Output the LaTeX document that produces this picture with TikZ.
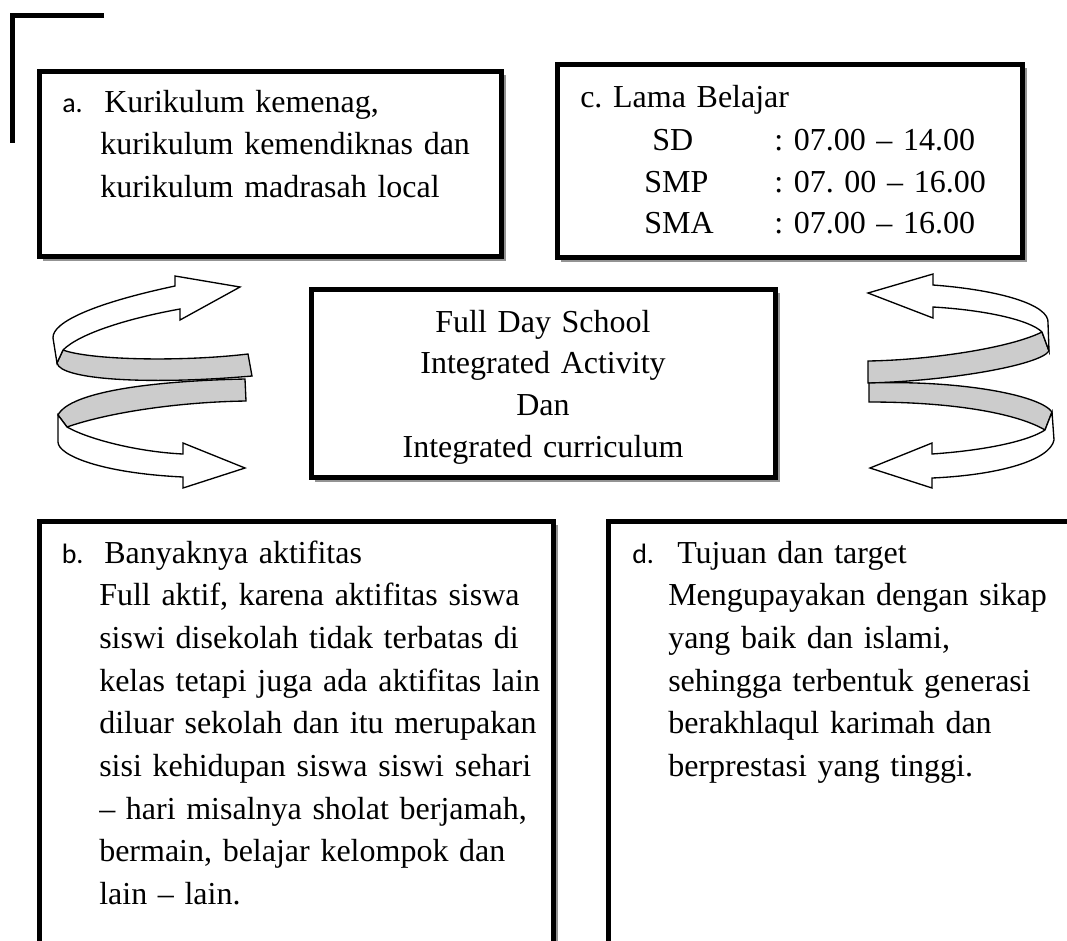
\documentclass[tikz,border=0pt]{standalone}
\usepackage{fontspec}
\setmainfont{Liberation Serif}[Ligatures={TeX,NoCommon}]
\newfontfamily\labelfont{Carlito}
\frenchspacing
\tikzset{
  % kotak bergaris tebal dengan bayangan abu-abu
  kotak/.style={
    draw=black,
    line width=3.75pt,
    fill=white,
    preaction={draw=gray!85, fill=gray!85, transform canvas={shift={(3pt,-3pt)}}}
  },
  % pita spiral (muka depan dan muka belakang)
  pita/.style={draw=black, line width=1pt, fill=white},
  pitagelap/.style={pita, fill=gray!40},
  % teks isi kotak
  isi/.style={anchor=base west, inner sep=0pt, align=left, text width=420pt,
    font=\fontsize{24}{32}\selectfont},
  % huruf urutan a. b. d.
  huruf/.style={anchor=base west, inner sep=0pt, font=\labelfont\fontsize{21}{25}\selectfont},
}
\begin{document}
\begin{tikzpicture}[x=0.75pt, y=-0.75pt]
  \useasboundingbox (0,0) rectangle (1067,940);
  \clip (0,0) rectangle (1067,940);

  % Sudut kiri atas
  \draw[line width=3.75pt] (104,15.7) -- (12.8,15.7) -- (12.8,143);

  % Kotak
  \draw[kotak] (39,71) rectangle (501,256);
  \draw[kotak] (557,64.5) rectangle (1022,257);
  \draw[kotak] (311.5,289.5) rectangle (775,477.5);
  \draw[kotak] (39,521.5) rectangle (553,1000);
  \draw[kotak] (608.5,521.5) rectangle (1120,1000);

  % Kotak a
  \node[huruf] (la) at (62,112) {a.};
  \node[isi] (kurikulum) at (100,112) {\hspace*{3pt}Kurikulum kemenag,\\kurikulum kemendiknas dan\\kurikulum madrasah local};

  % Kotak c
  \node[isi] (lama) at (580,107) {c. Lama Belajar};
  \node[isi] (sd) at (652,150) {SD};
  \node[isi] (jamsd) at (774,150) {: 07.00 – 14.00};
  \node[isi] (smp) at (644,192) {SMP};
  \node[isi] (jamsmp) at (774,192) {: 07. 00 – 16.00};
  \node[isi] (sma) at (644,233) {SMA};
  \node[isi] (jamsma) at (774,233) {: 07.00 – 16.00};

  % Kotak tengah
  \node[isi, anchor=base, align=center, text width=340pt, font=\fontsize{24}{31.3}\selectfont] (fds) at (543,332)
    {Full Day School\\Integrated Activity\\Dan\\Integrated curriculum};

  % Kotak b
  \node[huruf] (lb) at (61.5,563) {b.};
  \node[isi] (aktifitas) at (99,563) {\hspace*{3.75pt}Banyaknya aktifitas\\Full aktif, karena aktifitas siswa\\siswi disekolah tidak terbatas di\\kelas tetapi juga ada aktifitas lain\\diluar sekolah dan itu merupakan\\sisi kehidupan siswa siswi sehari\\– hari misalnya sholat berjamah,\\bermain, belajar kelompok dan\\lain – lain.};

  % Kotak d
  \node[huruf] (ld) at (632,563) {d.};
  \node[isi] (tujuan) at (668,563) {\hspace*{6.75pt}Tujuan dan target\\Mengupayakan dengan sikap\\yang baik dan islami,\\sehingga terbentuk generasi\\berakhlaqul karimah dan\\berprestasi yang tinggi.};

  % Spiral kiri
  \draw[pitagelap] (63,350) .. controls (90,360) and (180,362) .. (248,354) -- (252,376)
    .. controls (150,385) and (60,380) .. (57,363) -- cycle;
  \draw[pitagelap] (245,379) -- (246,401) .. controls (180,402) and (110,412) .. (67,427)
    -- (58,415) .. controls (70,392) and (150,381) .. (245,379) -- cycle;
  \draw[pita] (175,286) -- (175,276) -- (240,287) -- (180,320) -- (180,309)
    .. controls (130,318) and (80,333) .. (63,350) -- (57,363) -- (53,338)
    .. controls (52,322) and (95,303) .. (175,286) -- cycle;
  \draw[pita] (58,415) -- (58,442) .. controls (58,455) and (100,473) .. (183,477)
    -- (183,488) -- (245,468) -- (183,443) -- (183,454)
    .. controls (140,452) and (90,440) .. (67,427) -- cycle;

  % Spiral kanan
  \draw[pitagelap] (1042,332) .. controls (1010,348) and (930,360) .. (868,361) -- (868,383)
    .. controls (950,381) and (1040,365) .. (1049,351) -- cycle;
  \draw[pitagelap] (869,383) .. controls (960,380) and (1040,395) .. (1052,412) -- (1045,430)
    .. controls (1020,415) and (960,402) .. (869,402) -- cycle;
  \draw[pita] (933,285) -- (933,274) -- (868,293) -- (933,318) -- (933,307)
    .. controls (985,310) and (1030,320) .. (1042,332) -- (1049,351) -- (1048,323)
    .. controls (1050,305) and (1000,290) .. (933,285) -- cycle;
  \draw[pita] (1052,412) -- (1054,440) .. controls (1050,460) and (1000,475) .. (932,478)
    -- (932,488) -- (870,468) -- (932,443) -- (932,454)
    .. controls (990,450) and (1030,440) .. (1045,430) -- cycle;
\end{tikzpicture}
\end{document}
